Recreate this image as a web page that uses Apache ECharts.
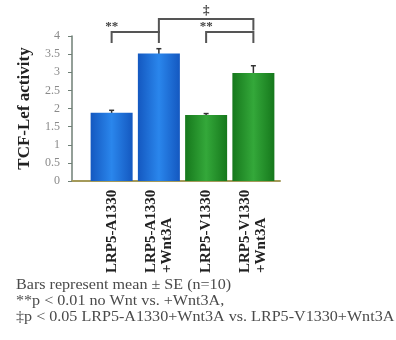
<!DOCTYPE html>
<html><head><meta charset="utf-8">
<script src="https://cdn.jsdelivr.net/npm/echarts@6/dist/echarts.min.js"></script>
<style>html,body{margin:0;padding:0;background:#fff}#c{width:396px;height:340px}</style>
</head><body><div id="c"></div>
<script>
const categories = ['LRP5-A1330', 'LRP5-A1330\n+Wnt3A', 'LRP5-V1330', 'LRP5-V1330\n+Wnt3A'];
const values = [1.88, 3.52, 1.82, 2.98];
const errors = [0.07, 0.13, 0.04, 0.2];
const yTicks = [0, 0.5, 1, 1.5, 2, 2.5, 3, 3.5, 4];
// brackets: [xStart, xEnd, yTop, yLegLeft, yLegRight, labelY, label]
const brackets = [
  [-0.06, 0.88, 4.11, 3.81, 3.81, 4.27, '**'],
  [0.97, 2.98, 4.47, 4.08, 4.15, 4.7, '‡'],
  [1.92, 2.92, 4.11, 3.81, 3.81, 4.27, '**']
];
const notes = [
  'Bars represent mean ± SE (n=10)',
  '**p < 0.01 no Wnt vs. +Wnt3A,',
  '‡p < 0.05 LRP5-A1330+Wnt3A vs. LRP5-V1330+Wnt3A'
];

const blue = {type:'linear',x:0,y:0,x2:1,y2:0,colorStops:[{offset:0,color:'#1458c0'},{offset:0.5,color:'#2a86ec'},{offset:1,color:'#1458c0'}]};
const green = {type:'linear',x:0,y:0,x2:1,y2:0,colorStops:[{offset:0,color:'#16781c'},{offset:0.5,color:'#34a83a'},{offset:1,color:'#16781c'}]};
const barColors = [blue, blue, green, green];

const serif = '"Liberation Serif","DejaVu Serif",serif';
const chart = echarts.init(document.getElementById('c'));
chart.setOption({
  animation: false,
  grid: [
    {left: 72, right: 116, top: 36, bottom: 159},
    {left: 88, right: 119, top: 36, bottom: 159}
  ],
  xAxis: [
    {type: 'value', gridIndex: 0, min: 0, max: 1, axisLabel: {show: false}, axisTick: {show: false}, splitLine: {show: false},
     axisLine: {lineStyle: {color: '#a49a5a', width: 2}}},
    {type: 'category', gridIndex: 1, data: categories, axisLine: {show: false}, axisTick: {show: false},
     axisLabel: {rotate: 90, margin: 7, interval: 0, fontFamily: serif, fontWeight: 'bold', fontSize: 15, color: '#222', lineHeight: 16,
       formatter: function (v) { return v.split('\n').map(s => '{a|' + s + '}').join('\n'); },
       rich: {a: {width: 85, align: 'left', fontFamily: serif, fontWeight: 'bold', fontSize: 15, color: '#222', lineHeight: 16}}}}
  ],
  yAxis: [
    {type: 'value', gridIndex: 0, min: 0, max: 4, interval: 0.5, splitLine: {show: false},
     name: 'TCF-Lef activity', nameLocation: 'middle', nameGap: 39,
     nameTextStyle: {fontFamily: serif, fontWeight: 'bold', fontSize: 17, color: '#222'},
     axisLine: {show: true, lineStyle: {color: '#6f7f76', width: 1.5}},
     axisTick: {show: true, length: 4, lineStyle: {color: '#6f7f76'}},
     axisLabel: {margin: 12, fontFamily: serif, fontSize: 12, color: '#8a8a8a',
       formatter: function (v) { return yTicks.indexOf(v) >= 0 ? String(v) : ''; }}},
    {type: 'value', gridIndex: 1, min: 0, max: 4, show: false}
  ],
  series: [
    {type: 'custom', xAxisIndex: 1, yAxisIndex: 1, z: 1,
     data: values.map((v, i) => [i, v, errors[i]]),
     renderItem: function (params, api) {
       const x = api.value(0), v = api.value(1), e = api.value(2);
       const top = api.coord([x, v + e]);
       const bot = api.coord([x, v - e]);
       return {type: 'group', children: [
         {type: 'line', shape: {x1: top[0], y1: top[1], x2: bot[0], y2: bot[1]}, style: {stroke: '#333', lineWidth: 1.5}},
         {type: 'line', shape: {x1: top[0] - 2.5, y1: top[1], x2: top[0] + 2.5, y2: top[1]}, style: {stroke: '#333', lineWidth: 1.5}}
       ]};
     }},
    {type: 'bar', xAxisIndex: 1, yAxisIndex: 1, barWidth: 42, z: 2,
     data: values.map((v, i) => ({value: v, itemStyle: {color: barColors[i]}}))},
    {type: 'custom', xAxisIndex: 1, yAxisIndex: 1, z: 3, clip: false,
     data: brackets.map(b => b.slice(0, 6)),
     renderItem: function (params, api) {
       const b = brackets[params.dataIndex];
       const tl = api.coord([b[0], b[2]]), tr = api.coord([b[1], b[2]]);
       const bl = api.coord([b[0], b[3]]), br = api.coord([b[1], b[4]]);
       const lp = api.coord([(b[0] + b[1]) / 2, b[5]]);
       return {type: 'group', children: [
         {type: 'polyline', shape: {points: [bl, tl, tr, br]}, style: {stroke: '#555', lineWidth: 2, fill: null}},
         {type: 'text', x: lp[0], y: lp[1], style: {text: b[6], fontFamily: serif, fontSize: 13, fontWeight: 'bold', fill: '#444', align: 'center', verticalAlign: 'middle'}}
       ]};
     }}
  ],
  graphic: notes.map((t, i) => ({
    type: 'text', left: 16, top: 278 + i * 16, scaleX: 1.15,
    style: {text: t, fontFamily: serif, fontSize: 14, fill: '#4a4a4a'}
  }))
});
</script></body></html>
